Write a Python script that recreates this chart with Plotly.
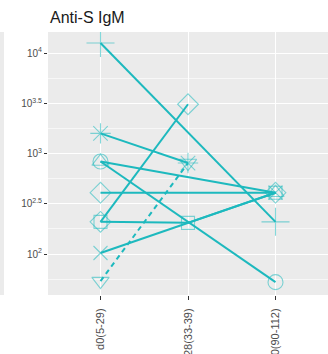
import plotly.graph_objects as go

# Data (log10 titres), per subject
days = ["d0(5-29)", "d28(33-39)", "d90(90-112)"]
s_cross = [4.10, None, 2.32]
s_asterisk = [3.20, 2.905, None]
s_tri_up = [2.92, None, 2.61]
s_circle = [2.92, None, 1.72]
s_diamond_a = [2.61, None, 2.61]
s_diamond_b = [2.32, 3.49, None]
s_square = [2.32, 2.31, 2.61]
s_x = [2.01, None, 2.61]
s_tri_down = [1.73, 2.905, None]

tick_vals = [2, 2.5, 3, 3.5, 4]
tick_text = ["10<sup>2</sup>", "10<sup>2.5</sup>", "10<sup>3</sup>", "10<sup>3.5</sup>", "10<sup>4</sup>"]

series = [
    (s_cross, "cross-thin-open", 20, "solid"),
    (s_asterisk, "asterisk-open", 17, "solid"),
    (s_tri_up, "triangle-up-open", 15, "solid"),
    (s_circle, "circle-open", 15, "solid"),
    (s_diamond_a, "diamond-open", 16, "solid"),
    (s_diamond_b, "diamond-open", 16, "solid"),
    (s_square, "square-open", 13, "solid"),
    (s_x, "x-thin-open", 14, "solid"),
    (s_tri_down, "triangle-down-open", 15, "5px,4px"),
]

line_col = "#1DB9BE"
mark_col = "rgba(29,185,190,0.55)"

fig = go.Figure()
for vals, sym, size, dash in series:
    fig.add_trace(go.Scatter(
        x=days, y=vals, mode="lines+markers", connectgaps=True,
        line=dict(color=line_col, width=2, dash=dash),
        marker=dict(symbol=sym, size=size, color=mark_col,
                    line=dict(color=mark_col, width=1.1)),
        showlegend=False, hoverinfo="skip",
    ))

fig.update_layout(
    width=328, height=354,
    margin=dict(l=48, r=0, t=32, b=59, autoexpand=False),
    paper_bgcolor="white", plot_bgcolor="#EBEBEB",
    font=dict(family="Liberation Sans, Arial, sans-serif"),
    title=dict(text="Anti-S IgM", x=50/328, xanchor="left", xref="container",
               y=1-17/354, yanchor="middle", yref="container",
               font=dict(size=16, color="#1a1a1a")),
    shapes=[dict(type="rect", xref="paper", yref="paper",
                 x0=-48/280, x1=-44/280, y0=0, y1=1,
                 fillcolor="#EBEBEB", line=dict(width=0), layer="below")],
)
fig.update_xaxes(
    type="category", range=[-0.6, 2.6], showgrid=True, gridcolor="white", gridwidth=1.1,
    zeroline=False, ticks="outside", ticklen=4, tickcolor="#333333", tickwidth=1,
    tickangle=-90, tickfont=dict(size=11, color="#4D4D4D"), automargin=False,
    ticklabelstandoff=4,
)
fig.update_yaxes(
    range=[1.592, 4.209], tickvals=tick_vals, ticktext=tick_text,
    showgrid=True, gridcolor="white", gridwidth=1.1, zeroline=False,
    ticks="outside", ticklen=3, tickcolor="#333333", tickwidth=1,
    tickfont=dict(size=10, color="#4D4D4D"), automargin=False,
    minor=dict(tickvals=[1.75, 2.25, 2.75, 3.25, 3.75], showgrid=True,
               gridcolor="#F7F7F7", gridwidth=0.5, ticks=""),
)

fig.write_html("out.html")
